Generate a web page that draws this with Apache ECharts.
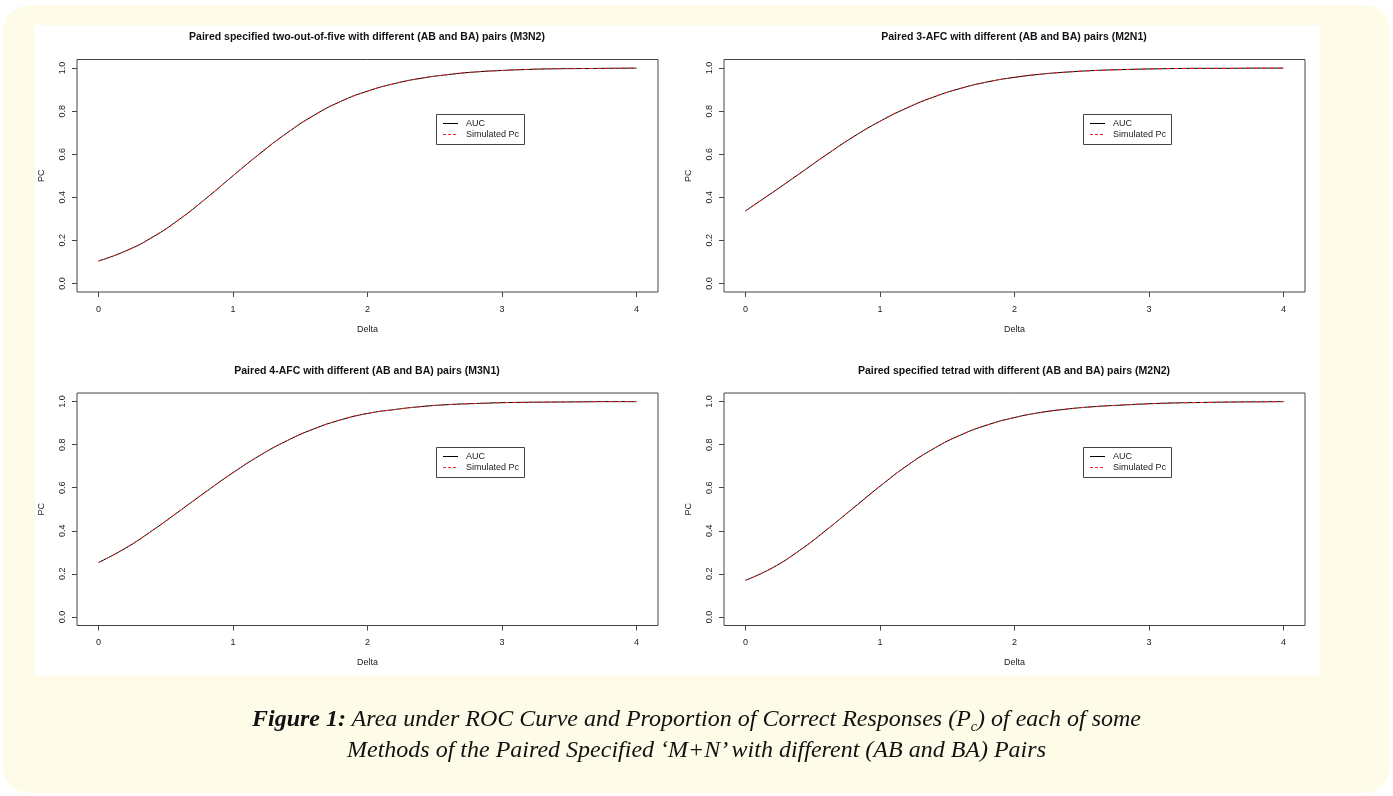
<!DOCTYPE html>
<html>
<head>
<meta charset="utf-8">
<script src="https://cdn.jsdelivr.net/npm/echarts@6/dist/echarts.min.js"></script>
<style>
  html, body { margin: 0; padding: 0; background: #ffffff; width: 1393px; height: 796px; overflow: hidden; }
  #frame { position: absolute; left: 3px; top: 5px; width: 1387px; height: 788px; background: #fefbe8; border-radius: 26px; }
  #white { position: absolute; left: 35px; top: 25px; width: 1285px; height: 651px; background: #ffffff; }
  #chart { position: absolute; left: 0; top: 0; width: 1393px; height: 796px; }
  #caption { position: absolute; left: 0; width: 1393px; top: 703px; text-align: center;
    font-family: "Liberation Serif", "DejaVu Serif", serif; font-style: italic; font-size: 24px; line-height: 31px; color: #111; }
  #caption b { font-weight: bold; }
  #caption sub { font-size: 14px; vertical-align: -5px; line-height: 0; }
</style>
</head>
<body>
<div id="frame"></div>
<div id="white"></div>
<div id="chart"></div>
<div id="caption"><b>Figure 1:</b> Area under ROC Curve and Proportion of Correct Responses (P<sub>c</sub>) of each of some<br>Methods of the Paired Specified ‘M+N’ with different (AB and BA) Pairs</div>
<script>
// ---- data ----
const delta = [0, 0.2, 0.4, 0.6, 0.8, 1.0, 1.2, 1.4, 1.6, 1.8, 2.0, 2.2, 2.4, 2.6, 2.8, 3.0, 3.2, 3.4, 3.6, 3.8, 4.0];

const aucM3N2 = [0.104, 0.150, 0.214, 0.297, 0.395, 0.500, 0.603, 0.698, 0.780, 0.845, 0.893, 0.928, 0.953, 0.970, 0.982, 0.989, 0.994, 0.997, 0.998, 0.999, 1.000];
const simM3N2 = [0.104, 0.150, 0.214, 0.297, 0.395, 0.500, 0.603, 0.698, 0.780, 0.845, 0.893, 0.928, 0.953, 0.970, 0.982, 0.989, 0.994, 0.997, 0.998, 0.999, 1.000];

const aucM2N1 = [0.337, 0.422, 0.509, 0.597, 0.680, 0.753, 0.815, 0.866, 0.906, 0.936, 0.957, 0.972, 0.982, 0.989, 0.993, 0.996, 0.998, 0.999, 0.999, 1.000, 1.000];
const simM2N1 = [0.337, 0.422, 0.509, 0.597, 0.680, 0.753, 0.815, 0.866, 0.906, 0.936, 0.957, 0.972, 0.982, 0.989, 0.993, 0.996, 0.998, 0.999, 0.999, 1.000, 1.000];

const aucM3N1 = [0.253, 0.319, 0.401, 0.491, 0.582, 0.670, 0.750, 0.818, 0.873, 0.915, 0.945, 0.963, 0.977, 0.986, 0.991, 0.995, 0.997, 0.998, 0.999, 1.000, 1.000];
const simM3N1 = [0.253, 0.319, 0.401, 0.491, 0.582, 0.670, 0.750, 0.818, 0.873, 0.915, 0.945, 0.963, 0.977, 0.986, 0.991, 0.995, 0.997, 0.998, 0.999, 1.000, 1.000];

const aucM2N2 = [0.170, 0.228, 0.308, 0.403, 0.505, 0.607, 0.702, 0.782, 0.845, 0.892, 0.926, 0.950, 0.966, 0.977, 0.984, 0.990, 0.994, 0.996, 0.998, 0.999, 1.000];
const simM2N2 = [0.170, 0.228, 0.308, 0.403, 0.505, 0.607, 0.702, 0.782, 0.845, 0.892, 0.926, 0.950, 0.966, 0.977, 0.984, 0.990, 0.994, 0.996, 0.998, 0.999, 1.000];

const panelTitles = [
  'Paired specified two-out-of-five with different (AB and BA) pairs (M3N2)',
  'Paired 3-AFC with different (AB and BA) pairs (M2N1)',
  'Paired 4-AFC with different (AB and BA) pairs (M3N1)',
  'Paired specified tetrad with different (AB and BA) pairs (M2N2)'
];
const seriesNames = ['AUC', 'Simulated Pc'];
const xTicks = [0, 1, 2, 3, 4];
const yTicks = [0, 0.2, 0.4, 0.6, 0.8, 1.0];
const xName = 'Delta';
const yName = 'PC';

// ---- layout ----
const panels = [
  { auc: aucM3N2, sim: simM3N2, left: 77, top: 59.5, titleX: 367, titleY: 32, legX: 436, legY: 114 },
  { auc: aucM2N1, sim: simM2N1, left: 724, top: 59.5, titleX: 1014, titleY: 32, legX: 1083, legY: 114 },
  { auc: aucM3N1, sim: simM3N1, left: 77, top: 393, titleX: 367, titleY: 366, legX: 436, legY: 447 },
  { auc: aucM2N2, sim: simM2N2, left: 724, top: 393, titleX: 1014, titleY: 366, legX: 1083, legY: 447 }
];
const W = 581, H = 232.5;
const font = 'Liberation Sans, Arial, sans-serif';
const txt = '#222';
const black = '#000000', red = '#ff2020';

const pairs = (ys) => delta.map((d, i) => [d, ys[i]]);

const option = {
  backgroundColor: 'transparent',
  animation: false,
  title: [], grid: [], xAxis: [], yAxis: [], series: [], graphic: { elements: [] }
};

panels.forEach((p, k) => {
  option.title.push({
    text: panelTitles[k], left: p.titleX, top: p.titleY, textAlign: 'center', padding: 0,
    textStyle: { fontFamily: font, fontSize: 10.5, fontWeight: 'bold', color: '#111' }
  });
  option.grid.push({
    left: p.left, top: p.top, width: W, height: H, show: true,
    borderColor: '#444', borderWidth: 1, backgroundColor: 'transparent'
  });
  option.xAxis.push({
    type: 'value', gridIndex: k, min: -0.16, max: 4.16, position: 'bottom',
    name: xName, nameLocation: 'middle', nameGap: 33,
    nameTextStyle: { fontFamily: font, fontSize: 9, color: txt },
    axisLine: { show: false, onZero: false },
    axisTick: { show: true, inside: false, length: 5, customValues: xTicks, lineStyle: { color: '#444' } },
    axisLabel: { customValues: xTicks, margin: 13, fontFamily: font, fontSize: 9, color: txt,
      formatter: v => String(v) },
    splitLine: { show: false }
  });
  option.yAxis.push({
    type: 'value', gridIndex: k, min: -0.04, max: 1.04, position: 'left',
    name: yName, nameLocation: 'middle', nameGap: 31,
    nameTextStyle: { fontFamily: font, fontSize: 9, color: txt },
    axisLine: { show: false, onZero: false },
    axisTick: { show: true, inside: false, length: 5, customValues: yTicks, lineStyle: { color: '#444' } },
    axisLabel: { customValues: yTicks, margin: 10, rotate: 90, fontFamily: font, fontSize: 9, color: txt,
      formatter: v => v.toFixed(1) },
    splitLine: { show: false }
  });
  option.series.push({
    name: seriesNames[0], type: 'line', xAxisIndex: k, yAxisIndex: k,
    data: pairs(p.auc), symbol: 'none', smooth: 0.5,
    lineStyle: { color: black, width: 1, type: 'solid' }, itemStyle: { color: black }
  });
  option.series.push({
    name: seriesNames[1], type: 'line', xAxisIndex: k, yAxisIndex: k,
    data: pairs(p.sim), symbol: 'none', smooth: 0.5,
    lineStyle: { color: red, width: 1, type: [4, 4] }, itemStyle: { color: red }
  });
  // legend box (drawn like R's legend())
  const lx = p.legX, ly = p.legY;
  option.graphic.elements.push(
    { type: 'rect', shape: { x: lx + 0.5, y: ly + 0.5, width: 88, height: 30 },
      style: { fill: '#ffffff', stroke: '#444', lineWidth: 1 }, z: 10 },
    { type: 'line', shape: { x1: lx + 7, y1: ly + 9.5, x2: lx + 22, y2: ly + 9.5 },
      style: { stroke: black, lineWidth: 1 }, z: 11 },
    { type: 'line', shape: { x1: lx + 7, y1: ly + 20.5, x2: lx + 22, y2: ly + 20.5 },
      style: { stroke: red, lineWidth: 1, lineDash: [3, 2] }, z: 11 },
    { type: 'text', x: lx + 30, y: ly + 9.5, z: 11,
      style: { text: seriesNames[0], font: '9px ' + font, fill: txt, verticalAlign: 'middle' } },
    { type: 'text', x: lx + 30, y: ly + 20.5, z: 11,
      style: { text: seriesNames[1], font: '9px ' + font, fill: txt, verticalAlign: 'middle' } }
  );
});

const chart = echarts.init(document.getElementById('chart'), null, { renderer: 'canvas' });
chart.setOption(option);
</script>
</body>
</html>
